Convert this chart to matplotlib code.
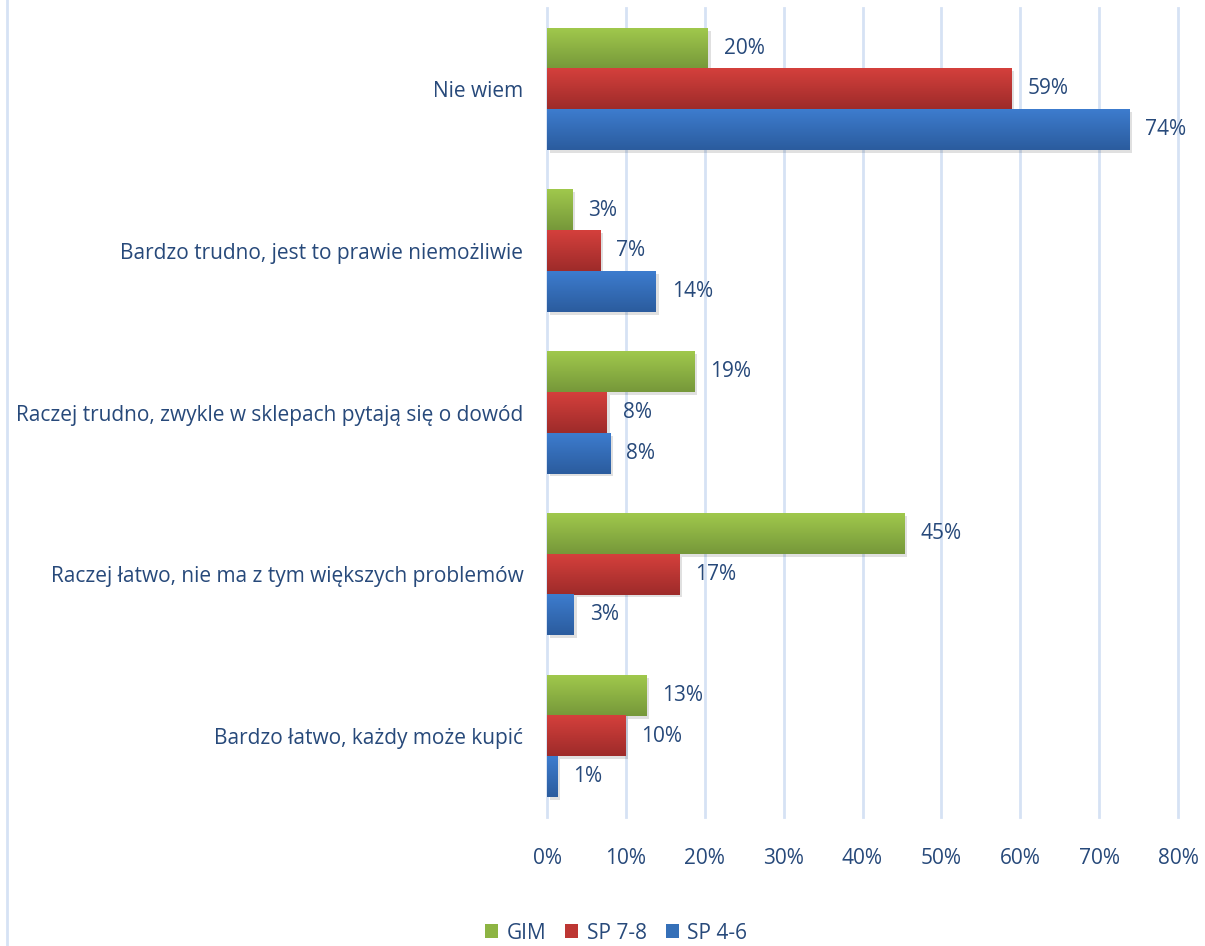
import matplotlib
matplotlib.use("Agg")
import matplotlib.pyplot as plt
import numpy as np
from matplotlib.patches import Patch
from matplotlib import patheffects as pe
from matplotlib.colors import LinearSegmentedColormap
from matplotlib.lines import Line2D

categories = ["Nie wiem",
              "Bardzo trudno, jest to prawie niemożliwie",
              "Raczej trudno, zwykle w sklepach pytają się o dowód",
              "Raczej łatwo, nie ma z tym większych problemów",
              "Bardzo łatwo, każdy może kupić"]
series_names = ["GIM", "SP 7-8", "SP 4-6"]
gim = [20.4, 3.2, 18.7, 45.3, 12.6]
sp78 = [58.9, 6.8, 7.6, 16.8, 9.9]
sp46 = [73.8, 13.8, 8.0, 3.4, 1.3]
xticks = [0, 10, 20, 30, 40, 50, 60, 70, 80]

# top / bottom gradient colours per series
grad = [("#a0c84c", "#76983a"), ("#d4403c", "#9e2b2a"), ("#3d7cce", "#2b5c9e")]
legend_cols = ["#8db443", "#bd3633", "#3570b8"]
TXT = "#27497a"
FONT = "Open Sans"
FS = 15

plt.rcParams['font.family'] = [FONT, 'DejaVu Sans']

fig = plt.figure(figsize=(12.05, 9.46), dpi=100)
ax = fig.add_axes([547/1205, 1-817/946, (1178-547)/1205, (817-8)/946])

h = 0.2515
y = np.arange(len(categories))
data = [gim, sp78, sp46]
offsets = [-h, 0, h]
for vals, off, (ctop, cbot) in zip(data, offsets, grad):
    bars = ax.barh(y + off, vals, height=h, color=cbot, zorder=3, linewidth=0,
                   path_effects=[pe.SimplePatchShadow(offset=(2, -2), shadow_rgbFace='black', alpha=0.12), pe.Normal()])
    cmap = LinearSegmentedColormap.from_list("g", [ctop, cbot])
    for b, v in zip(bars, vals):
        x0, yb, w, hh = b.get_x(), b.get_y(), b.get_width(), b.get_height()
        ax.imshow(np.linspace(0, 1, 64).reshape(-1, 1), cmap=cmap, aspect='auto',
                  extent=[x0, x0 + w, yb + hh, yb], origin='upper', zorder=4,
                  interpolation='bilinear')
        ax.text(x0 + w + 2.0, yb + hh/2, f"{v:.0f}%", va='center', ha='left',
                fontsize=FS, color=TXT, zorder=5)

ax.set_xlim(0, 80)
ax.set_ylim(len(categories) - 0.5, -0.5)
ax.set_yticks(y)
ax.set_yticklabels(categories)
ax.set_xticks(xticks)
ax.set_xticklabels([f"{t}%" for t in xticks])
ax.tick_params(axis='both', length=0, labelsize=FS, labelcolor=TXT)
ax.tick_params(axis='x', pad=22)
ax.tick_params(axis='y', pad=17)
for s in ax.spines.values():
    s.set_visible(False)
ax.grid(axis='x', color='#d6e2f4', linewidth=2, zorder=0)
for gl in ax.get_xgridlines():
    gl.set_clip_on(False)
ax.set_axisbelow(True)

handles = [Patch(facecolor=c, edgecolor='none') for c in legend_cols]
leg = fig.legend(handles, series_names, loc='center', bbox_to_anchor=(616/1205, 1-933/946),
                 ncol=3, frameon=False, fontsize=FS, handlelength=0.65, handleheight=0.65,
                 handletextpad=0.4, columnspacing=0.9)
for t in leg.get_texts():
    t.set_color(TXT)

fig.add_artist(Line2D([7/1205, 7/1205], [0, 1], color='#d6e2f4', linewidth=2, transform=fig.transFigure))

fig.savefig("out.png", dpi=100)
